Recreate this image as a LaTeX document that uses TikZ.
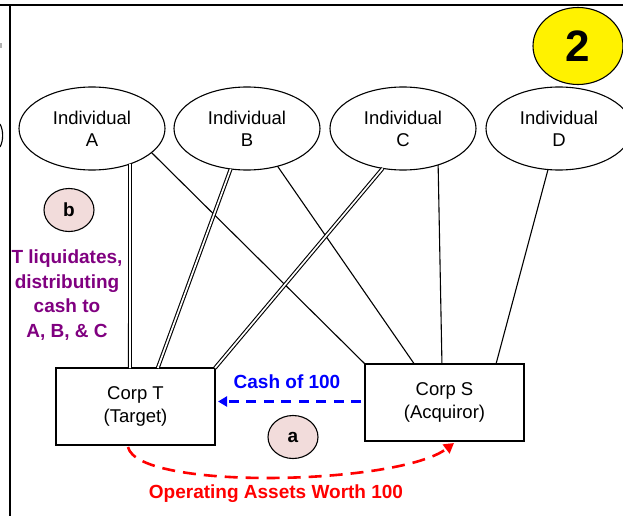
\documentclass[tikz,border=0pt]{standalone}
\usepackage{fontspec}
\setmainfont{Liberation Sans}
\usetikzlibrary{arrows.meta,calc,shapes.geometric}
\definecolor{tagfill}{HTML}{F2DCDB}
\definecolor{stepblue}{HTML}{0000FF}
\definecolor{stepred}{HTML}{FF0000}
\definecolor{steppurple}{HTML}{800080}
\begin{document}
\begin{tikzpicture}[x=1pt,y=-1pt,
  person/.style={ellipse,draw,line width=1.1pt,minimum width=146pt,minimum height=83pt,
    inner sep=0pt,outer sep=0pt,align=center,font=\fontsize{18.5}{22}\selectfont},
  corp/.style={rectangle,draw,line width=1.1pt,minimum width=159pt,minimum height=77pt,
    inner sep=0pt,outer sep=0pt,align=center,font=\fontsize{18.5}{22.5}\selectfont},
  tag/.style={ellipse,draw,line width=1.1pt,fill=tagfill,minimum width=50pt,minimum height=43pt,
    inner sep=0pt,font=\bfseries\fontsize{19}{23}\selectfont},
  own/.style={line width=1.1pt},
  dbl/.style={double,double distance=1.7pt,line width=1.1pt},
  cash/.style={draw=stepblue,line width=2.5pt,dash pattern=on 10pt off 7.5pt,
    -{Triangle[length=9pt,width=10pt]}},
  assets/.style={draw=stepred,line width=2.6pt,dash pattern=on 13pt off 8pt,
    -{Triangle[length=10pt,width=11pt]}},
  lbl/.style={font=\bfseries\fontsize{19}{24.7}\selectfont,align=center,inner sep=0pt}
]
\useasboundingbox (0,0) rectangle (623,516);
% frame of the slide
\draw[line width=2.2pt] (0,5) -- (623,5);
\draw[line width=2.2pt] (10,5) -- (10,516);
\fill[gray!60] (0,43) rectangle (1.5,48);
\draw[line width=1.1pt] (0,124) .. controls (3.5,130) and (3.5,141) .. (0,147);

% individuals
\node[person] (A) at (92,128.5) {Individual\\A};
\node[person] (B) at (247,128.5) {Individual\\B};
\node[person] (C) at (403,128.5) {Individual\\C};
\node[person] (D) at (559,128.5) {Individual\\D};

% corporations
\node[corp] (T) at (135.5,406.5) {Corp T\\(Target)};
\node[corp] (S) at (444.5,402.5) {Corp S\\(Acquiror)};

% number badge
\node[ellipse,draw,line width=1.1pt,fill=yellow,minimum width=90pt,minimum height=77pt,
  inner sep=0pt,font=\bfseries\fontsize{44}{46}\selectfont] (num) at (578,46) {2};

% shareholdings in S (single lines)
\draw[own] (A.-22) -- (S.north west);
\draw[own] (B.-51) -- ($(S.north west)!0.31!(S.north east)$);
\draw[own] (C.-46) -- ($(S.north west)!0.484!(S.north east)$);
\draw[own] (D.-105) -- ($(S.north west)!0.824!(S.north east)$);

% shareholdings in T (double lines)
\draw[dbl] (A.-43) -- ($(T.north west)!0.465!(T.north east)$);
\draw[dbl] (B.-112) -- ($(T.north west)!0.64!(T.north east)$);
\draw[dbl] (C.-117) -- (T.north east);

% step a
\draw[cash] ([xshift=-4pt,yshift=1pt]S.west) -- ([xshift=3pt,yshift=5pt]T.east);
\node[lbl,text=stepblue] (cashlbl) at (287,382) {Cash of 100};
\node[tag] (a) at (293,437) {a};
\draw[assets] ([xshift=-7.5pt,yshift=-2pt]T.south) .. controls +(10,44) and +(-55,42) .. ([xshift=9.5pt,yshift=-2pt]S.south);
\node[lbl,text=stepred] (assetslbl) at (276,494) {Operating Assets Worth 100};

% step b
\node[tag] (b) at (69,210) {b};
\node[lbl,text=steppurple] (btext) at (67,295) {T liquidates,\\distributing\\cash to\\A, B, \& C};
\end{tikzpicture}
\end{document}
